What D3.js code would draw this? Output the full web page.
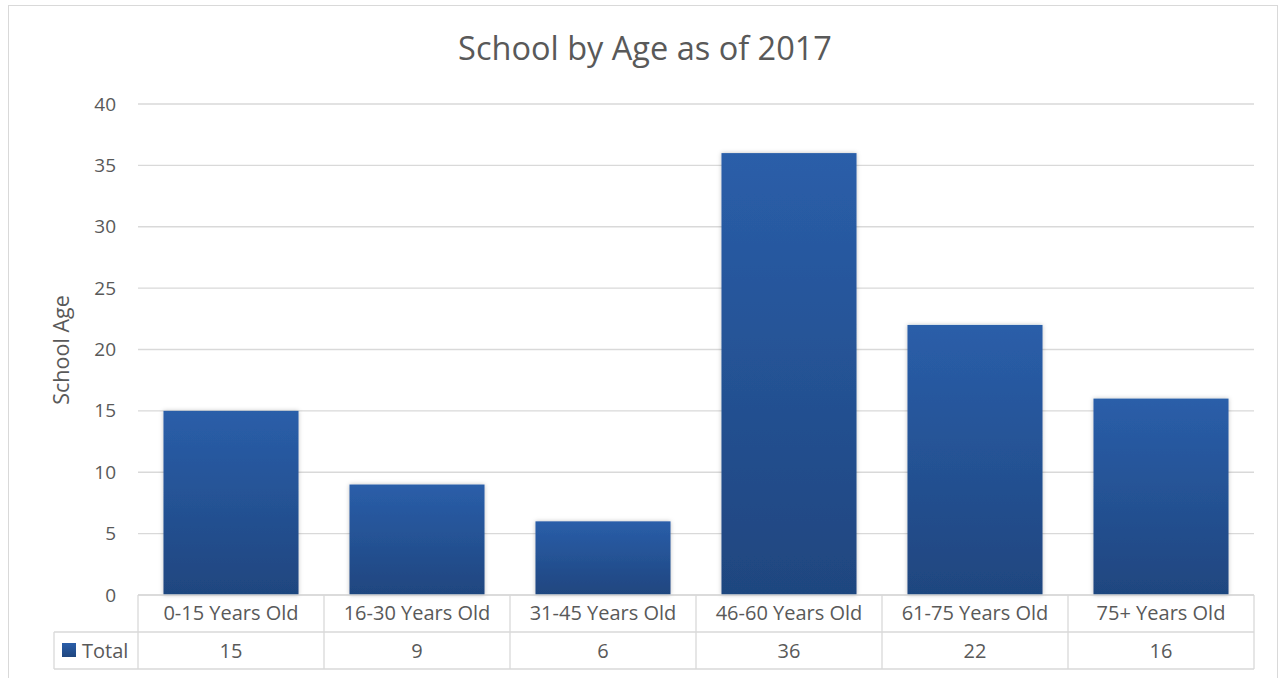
<!DOCTYPE html>
<html>
<head>
<meta charset="utf-8">
<script src="https://cdn.jsdelivr.net/npm/d3@7"></script>
<style>
  body { margin: 0; background: #fff; }
  text { font-family: "Open Sans", sans-serif; fill: #595959; }
</style>
</head>
<body>
<div id="chart"></div>
<script>
var categories = ["0-15 Years Old", "16-30 Years Old", "31-45 Years Old", "46-60 Years Old", "61-75 Years Old", "75+ Years Old"];
var totals = [15, 9, 6, 36, 22, 16];
var yTicks = [0, 5, 10, 15, 20, 25, 30, 35, 40];
var seriesName = "Total";

var W = 1279, H = 678;
var plot = {left: 138, right: 1254, top: 104, bottom: 595};

var svg = d3.select("#chart").append("svg")
  .attr("width", W).attr("height", H);

var defs = svg.append("defs");
var grad = defs.append("linearGradient").attr("id", "barGrad")
  .attr("x1", 0).attr("y1", 0).attr("x2", 0).attr("y2", 1);
grad.append("stop").attr("offset", "0%").attr("stop-color", "#2a5ea9");
grad.append("stop").attr("offset", "100%").attr("stop-color", "#1f467f");

var shadow = defs.append("filter").attr("id", "shadow")
  .attr("x", "-10%").attr("y", "-10%").attr("width", "120%").attr("height", "120%");
shadow.append("feDropShadow").attr("dx", 0).attr("dy", 0).attr("stdDeviation", 2)
  .attr("flood-color", "#000").attr("flood-opacity", 0.25);

// chart border
svg.append("rect")
  .attr("x", 8.5).attr("y", 5.5).attr("width", 1269).attr("height", 700)
  .attr("fill", "#fff").attr("stroke", "#d9d9d9").attr("stroke-width", 1);

var x = d3.scaleBand()
  .domain(categories)
  .range([plot.left, plot.right])
  .paddingInner(0.274).paddingOuter(0.137);

var y = d3.scaleLinear()
  .domain([0, 40])
  .range([plot.bottom, plot.top]);

// gridlines
svg.append("g")
  .selectAll("line")
  .data(yTicks)
  .enter().append("line")
    .attr("x1", plot.left).attr("x2", plot.right)
    .attr("y1", function(d) { return y(d); })
    .attr("y2", function(d) { return y(d); })
    .attr("stroke", "#d9d9d9").attr("stroke-width", 1.3);

// y axis
var yAxis = svg.append("g")
  .attr("transform", "translate(" + plot.left + ",0)")
  .call(d3.axisLeft(y).tickValues(yTicks).tickSize(0).tickPadding(22));
yAxis.select(".domain").remove();
yAxis.selectAll("text")
  .style("font-family", "'Open Sans', sans-serif")
  .style("font-size", "19px").attr("fill", "#595959");

// bars
svg.append("g")
  .selectAll("rect")
  .data(totals)
  .enter().append("rect")
    .attr("x", function(d, i) { return x(categories[i]); })
    .attr("y", function(d) { return y(d); })
    .attr("width", x.bandwidth())
    .attr("height", function(d) { return y(0) - y(d); })
    .attr("fill", "url(#barGrad)")
    .attr("filter", "url(#shadow)");

// title
svg.append("text")
  .attr("x", 645).attr("y", 60)
  .attr("text-anchor", "middle")
  .style("font-size", "32.5px")
  .text("School by Age as of 2017");

// y axis title
svg.append("text")
  .attr("transform", "translate(69,350) rotate(-90)")
  .attr("text-anchor", "middle")
  .style("font-size", "21.5px")
  .text("School Age");

// data table
var rowTop = 595, rowMid = 632, rowBot = 669, tableLeft = 54;
var colEdges = categories.map(function(c) { return x(c) - x.step() * x.paddingInner() / 2; });
colEdges.push(plot.right);

var table = svg.append("g").attr("stroke", "#d9d9d9").attr("stroke-width", 1.3);
table.append("line").attr("x1", plot.left).attr("x2", plot.right).attr("y1", rowTop).attr("y2", rowTop);
table.append("line").attr("x1", tableLeft).attr("x2", plot.right).attr("y1", rowMid).attr("y2", rowMid);
table.append("line").attr("x1", tableLeft).attr("x2", plot.right).attr("y1", rowBot).attr("y2", rowBot);
table.append("line").attr("x1", tableLeft).attr("x2", tableLeft).attr("y1", rowMid).attr("y2", rowBot);
table.selectAll("line.col")
  .data(colEdges)
  .enter().append("line").attr("class", "col")
    .attr("x1", function(d) { return d; }).attr("x2", function(d) { return d; })
    .attr("y1", rowTop).attr("y2", rowBot);

svg.append("g").selectAll("text")
  .data(categories)
  .enter().append("text")
    .attr("x", function(d) { return x(d) + x.bandwidth() / 2; })
    .attr("y", 620)
    .attr("text-anchor", "middle")
    .style("font-size", "20px")
    .text(function(d) { return d; });

svg.append("g").selectAll("text")
  .data(totals)
  .enter().append("text")
    .attr("x", function(d, i) { return x(categories[i]) + x.bandwidth() / 2; })
    .attr("y", 658)
    .attr("text-anchor", "middle")
    .style("font-size", "20px")
    .text(function(d) { return d; });

// legend key
svg.append("rect")
  .attr("x", 62).attr("y", 643).attr("width", 14).attr("height", 14)
  .attr("fill", "url(#barGrad)");
svg.append("text")
  .attr("x", 82).attr("y", 658)
  .style("font-size", "20px")
  .text(seriesName);
</script>
</body>
</html>
